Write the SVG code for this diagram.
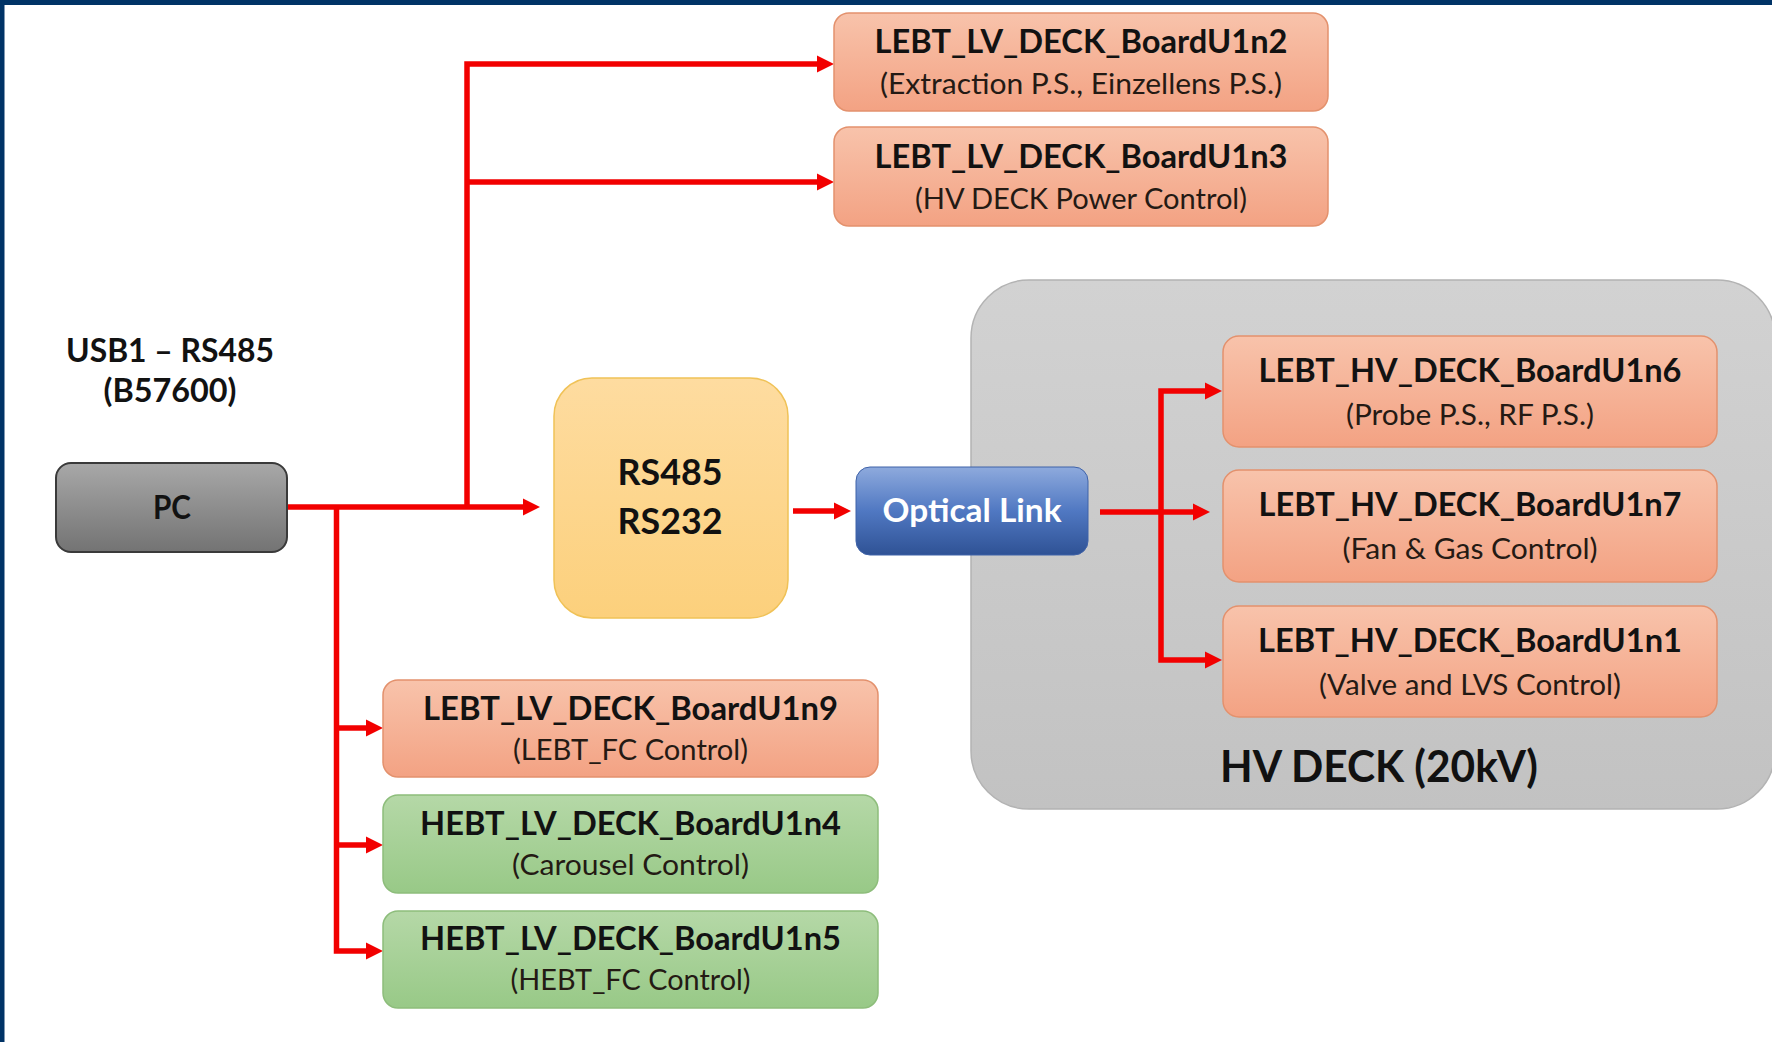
<svg xmlns="http://www.w3.org/2000/svg" width="1772" height="1042" viewBox="0 0 1772 1042">
  <style>
    .title{font-family:Lato,"Liberation Sans",sans-serif;font-weight:700;font-size:33px;fill:#121212;text-anchor:middle}
    .sub{font-family:Lato,"Liberation Sans",sans-serif;font-weight:400;font-size:28.5px;fill:#241a14;text-anchor:middle}
    .big{font-family:Lato,"Liberation Sans",sans-serif;font-weight:700;fill:#111;text-anchor:middle}
    .salmon{fill:url(#gSalmon);stroke:#e3916d;stroke-width:1.5}
    .green{fill:url(#gGreen);stroke:#8dbd7b;stroke-width:1.5}
    .wire{fill:none;stroke:#f20000;stroke-width:5.5;stroke-linejoin:miter;marker-end:url(#arrow)}
    .line{fill:none;stroke:#f20000;stroke-width:5.5}
  </style>
  <defs>
    <linearGradient id="gSalmon" x1="0" y1="0" x2="0" y2="1">
      <stop offset="0" stop-color="#f8c3ab"/>
      <stop offset="1" stop-color="#f3a283"/>
    </linearGradient>
    <linearGradient id="gGreen" x1="0" y1="0" x2="0" y2="1">
      <stop offset="0" stop-color="#b5d8a7"/>
      <stop offset="1" stop-color="#98c987"/>
    </linearGradient>
    <linearGradient id="gGray" x1="0" y1="0" x2="0" y2="1">
      <stop offset="0" stop-color="#a8a8a8"/>
      <stop offset="1" stop-color="#737373"/>
    </linearGradient>
    <linearGradient id="gYellow" x1="0" y1="0" x2="0" y2="1">
      <stop offset="0" stop-color="#fedca0"/>
      <stop offset="1" stop-color="#fcd07c"/>
    </linearGradient>
    <linearGradient id="gBlue" x1="0" y1="0" x2="0" y2="1">
      <stop offset="0" stop-color="#8eaadd"/>
      <stop offset="0.5" stop-color="#5078c2"/>
      <stop offset="1" stop-color="#2f5295"/>
    </linearGradient>
    <linearGradient id="gDeck" x1="0" y1="0" x2="0" y2="1">
      <stop offset="0" stop-color="#d2d2d2"/>
      <stop offset="1" stop-color="#c2c2c2"/>
    </linearGradient>
    <marker id="arrow" markerUnits="userSpaceOnUse" viewBox="0 0 18 18" markerWidth="18" markerHeight="18" refX="0" refY="9" orient="auto">
      <path d="M0,0.5 L17,9 L0,17.5 z" fill="#f20000"/>
    </marker>
  </defs>

  <!-- page background and frame -->
  <rect x="0" y="0" width="1772" height="1042" fill="#ffffff"/>
  <rect x="0" y="0" width="1772" height="5" fill="#003366"/>
  <rect x="0" y="0" width="4.5" height="1042" fill="#003366"/>

  <!-- high-voltage deck enclosure -->
  <g id="hv-deck">
    <rect x="971" y="280" width="804" height="529" rx="58" ry="58" fill="url(#gDeck)" stroke="#b3b3b3" stroke-width="1.5"/>
    <text class="big" x="1379" y="782" font-size="43" textLength="318" lengthAdjust="spacingAndGlyphs">HV DECK (20kV)</text>
  </g>

  <!-- bus label -->
  <g id="usb-label">
    <text class="title" x="170" y="362" textLength="208" lengthAdjust="spacingAndGlyphs">USB1 – RS485</text>
    <text class="title" x="170" y="402" textLength="133" lengthAdjust="spacingAndGlyphs">(B57600)</text>
  </g>

  <!-- connectors -->
  <g id="connectors">
    <path class="wire" d="M287,507 H523"/>
    <path class="wire" d="M467,507 V64 H817"/>
    <path class="wire" d="M467,182 H817"/>
    <path class="wire" d="M336.5,507 V951 H366"/>
    <path class="wire" d="M336.5,728 H366"/>
    <path class="wire" d="M336.5,845 H366"/>
    <path class="wire" d="M793,511 H834"/>
    <path class="wire" d="M1100,512 H1193"/>
    <path class="wire" d="M1161,512 V391 H1205"/>
    <path class="wire" d="M1161,512 V660 H1205"/>
  </g>

  <g id="pc">
    <rect x="56" y="463" width="231" height="89" rx="15" fill="url(#gGray)" stroke="#3a3a3a" stroke-width="2"/>
    <text class="title" x="172" y="519" textLength="38" lengthAdjust="spacingAndGlyphs">PC</text>
  </g>

  <g id="converter">
    <rect x="554" y="378" width="234" height="240" rx="38" fill="url(#gYellow)" stroke="#f0c257" stroke-width="1.5"/>
    <text class="big" x="670" y="485" font-size="37" textLength="105" lengthAdjust="spacingAndGlyphs">RS485</text>
    <text class="big" x="670" y="534" font-size="37" textLength="105" lengthAdjust="spacingAndGlyphs">RS232</text>
  </g>

  <g id="optical-link">
    <rect x="856" y="467" width="232" height="88" rx="14" fill="url(#gBlue)" stroke="#3f62a8" stroke-width="1"/>
    <text class="title" x="972" y="522" fill="#ffffff" style="fill:#ffffff" textLength="179" lengthAdjust="spacingAndGlyphs">Optical Link</text>
  </g>

  <g id="lebt-lv-u1n2">
    <rect class="salmon" x="834" y="13" width="494" height="98" rx="15"/>
    <text class="title" x="1081" y="53" textLength="413" lengthAdjust="spacingAndGlyphs">LEBT_LV_DECK_BoardU1n2</text>
    <text class="sub" x="1081" y="94" textLength="402" lengthAdjust="spacingAndGlyphs">(Extraction P.S., Einzellens P.S.)</text>
  </g>

  <g id="lebt-lv-u1n3">
    <rect class="salmon" x="834" y="127" width="494" height="99" rx="15"/>
    <text class="title" x="1081" y="168" textLength="413" lengthAdjust="spacingAndGlyphs">LEBT_LV_DECK_BoardU1n3</text>
    <text class="sub" x="1081" y="209" textLength="332" lengthAdjust="spacingAndGlyphs">(HV DECK Power Control)</text>
  </g>

  <g id="lebt-hv-u1n6">
    <rect class="salmon" x="1223" y="336" width="494" height="111" rx="16"/>
    <text class="title" x="1470" y="382" textLength="423" lengthAdjust="spacingAndGlyphs">LEBT_HV_DECK_BoardU1n6</text>
    <text class="sub" x="1470" y="425" textLength="248" lengthAdjust="spacingAndGlyphs">(Probe P.S., RF P.S.)</text>
  </g>

  <g id="lebt-hv-u1n7">
    <rect class="salmon" x="1223" y="470" width="494" height="112" rx="16"/>
    <text class="title" x="1470" y="516" textLength="423" lengthAdjust="spacingAndGlyphs">LEBT_HV_DECK_BoardU1n7</text>
    <text class="sub" x="1470" y="559" textLength="255" lengthAdjust="spacingAndGlyphs">(Fan &amp; Gas Control)</text>
  </g>

  <g id="lebt-hv-u1n1">
    <rect class="salmon" x="1223" y="606" width="494" height="111" rx="16"/>
    <text class="title" x="1470" y="652" textLength="424" lengthAdjust="spacingAndGlyphs">LEBT_HV_DECK_BoardU1n1</text>
    <text class="sub" x="1470" y="695" textLength="302" lengthAdjust="spacingAndGlyphs">(Valve and LVS Control)</text>
  </g>

  <g id="lebt-lv-u1n9">
    <rect class="salmon" x="383" y="680" width="495" height="97" rx="15"/>
    <text class="title" x="630.5" y="720" textLength="415" lengthAdjust="spacingAndGlyphs">LEBT_LV_DECK_BoardU1n9</text>
    <text class="sub" x="630.5" y="760" textLength="235" lengthAdjust="spacingAndGlyphs">(LEBT_FC Control)</text>
  </g>

  <g id="hebt-lv-u1n4">
    <rect class="green" x="383" y="795" width="495" height="98" rx="15"/>
    <text class="title" x="630.5" y="835" textLength="421" lengthAdjust="spacingAndGlyphs">HEBT_LV_DECK_BoardU1n4</text>
    <text class="sub" x="630.5" y="875" textLength="237" lengthAdjust="spacingAndGlyphs">(Carousel Control)</text>
  </g>

  <g id="hebt-lv-u1n5">
    <rect class="green" x="383" y="911" width="495" height="97" rx="15"/>
    <text class="title" x="630.5" y="950" textLength="421" lengthAdjust="spacingAndGlyphs">HEBT_LV_DECK_BoardU1n5</text>
    <text class="sub" x="630.5" y="990" textLength="240" lengthAdjust="spacingAndGlyphs">(HEBT_FC Control)</text>
  </g>
</svg>
